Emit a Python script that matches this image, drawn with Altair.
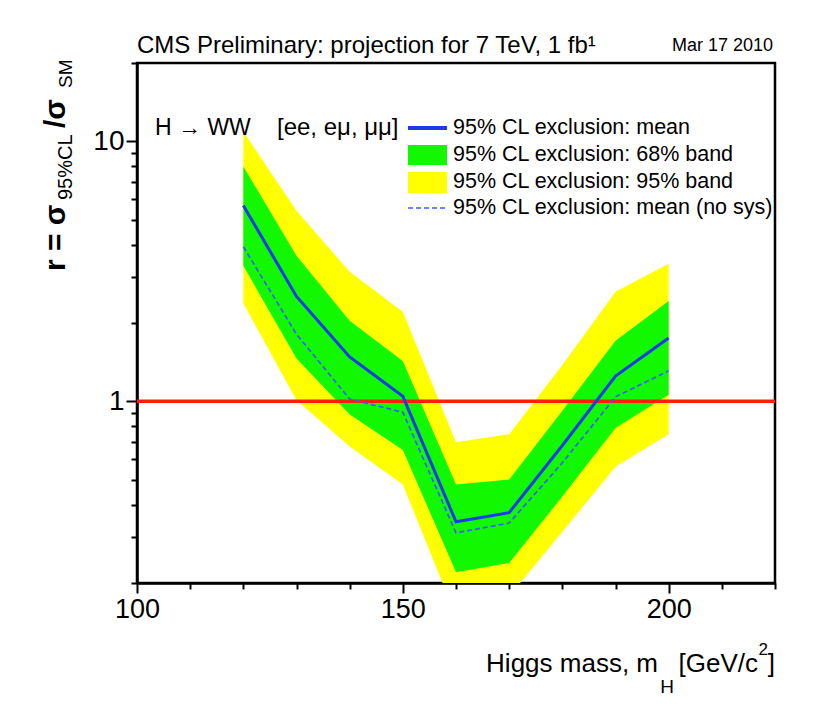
import altair as alt
import pandas as pd

# ---------------- data ----------------
mass = [120, 130, 140, 150, 160, 170, 180, 190, 200]
mean = [5.66, 2.53, 1.48, 1.045, 0.344, 0.373, 0.676, 1.25, 1.75]
mean_nosys = [3.93, 1.81, 1.02, 0.907, 0.312, 0.34, 0.58, 1.04, 1.31]
band68_lo = [3.32, 1.46, 0.89, 0.65, 0.22, 0.239, 0.43, 0.79, 1.06]
band68_hi = [8.0, 3.63, 2.04, 1.43, 0.478, 0.50, 0.92, 1.71, 2.43]
band95_lo = [2.38, 1.01, 0.67, 0.478, 0.149, 0.178, 0.315, 0.56, 0.746]
band95_hi = [10.9, 5.41, 3.15, 2.21, 0.695, 0.746, 1.38, 2.64, 3.38]
sm_ratio = [1.0]

x_ticks = [100, 110, 120, 130, 140, 150, 160, 170, 180, 190, 200, 210, 220]
x_major = [100, 150, 200]
y_ticks = [0.2, 0.3, 0.4, 0.5, 0.6, 0.7, 0.8, 0.9, 1, 2, 3, 4, 5, 6, 7, 8, 9, 10, 20]
y_major = [1, 10]

legend_labels = [
    "95% CL exclusion: mean",
    "95% CL exclusion: 68% band",
    "95% CL exclusion: 95% band",
    "95% CL exclusion: mean (no sys)",
]
title_text = "CMS Preliminary: projection for 7 TeV, 1 fb\u00b9"
date_text = "Mar 17 2010"
channel_text = ["H \u2192 WW", "[ee, e\u03bc, \u03bc\u03bc]"]

df = pd.DataFrame({
    "mass": mass, "mean": mean, "nosys": mean_nosys,
    "b68lo": band68_lo, "b68hi": band68_hi,
    "b95lo": band95_lo, "b95hi": band95_hi,
})

FONT = "Liberation Sans, Arial, Helvetica, sans-serif"

x_scale = alt.Scale(domain=[100, 220], nice=False, zero=False)
y_scale = alt.Scale(type="log", domain=[0.2, 20], nice=False)

x_major_test = " || ".join(f"datum.value == {v}" for v in x_major)
y_major_test = " || ".join(f"datum.value == {v}" for v in y_major)

xaxis = alt.Axis(
    values=x_ticks, title=None, grid=False,
    labelExpr=f"({x_major_test}) ? format(datum.value, 'd') : ''",
    tickSize={"condition": {"test": x_major_test, "value": 10}, "value": 6},
    tickWidth=2, tickColor="black", domainWidth=2.5, domainColor="black",
    labelFont=FONT, labelFontSize=27, labelColor="black", labelPadding=3,
    labelOverlap=False, labelFlush=False,
)
yaxis = alt.Axis(
    values=y_ticks, title=None, grid=False,
    labelExpr=f"({y_major_test}) ? format(datum.value, 'd') : ''",
    tickSize={"condition": {"test": y_major_test, "value": 11}, "value": 6},
    tickWidth=2, tickColor="black", domainWidth=2.5, domainColor="black",
    labelFont=FONT, labelFontSize=28, labelColor="black", labelPadding=2,
    labelOverlap=False, labelFlush=False,
)

base = alt.Chart(df)

yellow = base.mark_area(color="#ffff00", clip=True, opacity=1).encode(
    x=alt.X("mass:Q", scale=x_scale, axis=xaxis, title=None),
    y=alt.Y("b95lo:Q", scale=y_scale, axis=yaxis, title=None),
    y2="b95hi:Q",
)
green = base.mark_area(color="#12f800", clip=True, opacity=1).encode(
    x=alt.X("mass:Q", title=None),
    y=alt.Y("b68lo:Q", title=None),
    y2="b68hi:Q",
)
red = alt.Chart(pd.DataFrame({"r": sm_ratio})).mark_rule(
    color="#ff1e00", strokeWidth=3.5, clip=True
).encode(y=alt.Y("r:Q", title=None))

nosys_line = base.mark_line(
    color="#3a5cff", strokeWidth=1.7, strokeDash=[5, 3], clip=True
).encode(x=alt.X("mass:Q", title=None), y=alt.Y("nosys:Q", title=None))
mean_line = base.mark_line(color="#1b3ce8", strokeWidth=3, clip=True).encode(
    x=alt.X("mass:Q", title=None), y=alt.Y("mean:Q", title=None)
)

one = pd.DataFrame({"a": [0]})

def txt(s, x, y, size, align="left", baseline="middle", angle=0, weight="normal"):
    return alt.Chart(pd.DataFrame({"t": [s]})).mark_text(
        align=align, baseline=baseline, font=FONT, fontSize=size,
        fontWeight=weight, color="black", angle=angle,
    ).encode(text="t:N", x=alt.value(x), y=alt.value(y))

# legend symbols
leg_mean = alt.Chart(one).mark_rule(color="#1b3ce8", strokeWidth=4).encode(
    x=alt.value(271), x2=alt.value(310), y=alt.value(65))
leg_68 = alt.Chart(one).mark_rect(color="#12f800").encode(
    x=alt.value(271), x2=alt.value(310), y=alt.value(82), y2=alt.value(102))
leg_95 = alt.Chart(one).mark_rect(color="#ffff00").encode(
    x=alt.value(271), x2=alt.value(310), y=alt.value(109), y2=alt.value(130))
leg_nosys = alt.Chart(one).mark_rule(color="#3a5cff", strokeWidth=1.7,
                                     strokeDash=[5, 3]).encode(
    x=alt.value(271), x2=alt.value(310), y=alt.value(145))

leg_texts = [txt(lbl, 316, yy, 21.5) for lbl, yy in zip(legend_labels, [65, 92, 119, 145])]

chan1 = txt(channel_text[0], 18, 65, 23)
chan2 = txt(channel_text[1], 140, 65, 24)

title = txt(title_text, 0, -10, 24, baseline="alphabetic")
date = txt(date_text, 636, -12, 18, align="right", baseline="alphabetic")

# x-axis title with subscript / superscript (chained from the right edge)
xt1 = txt("Higgs mass, m", 521, 609, 26, align="right", baseline="alphabetic")
xt2 = txt("H", 537, 630, 19, align="right", baseline="alphabetic")
xt3 = txt("[GeV/c", 621, 609, 26, align="right", baseline="alphabetic")
xt4 = txt("2", 631, 592, 17, align="right", baseline="alphabetic")
xt5 = txt("]", 638, 609, 26, align="right", baseline="alphabetic")

# y-axis title (rotated) with subscripts
yt1 = txt("r = \u03c3", -72, 208, 30, baseline="alphabetic", angle=270, weight="bold")
yt2 = txt("95%CL", -65, 137, 20, baseline="alphabetic", angle=270)
yt3 = txt("/\u03c3", -72, 65, 30, baseline="alphabetic", angle=270, weight="bold")
yt4 = txt("SM", -65, 25, 19, baseline="alphabetic", angle=270)

chart = alt.layer(
    yellow, green, red, nosys_line, mean_line,
    leg_mean, leg_68, leg_95, leg_nosys, *leg_texts,
    chan1, chan2, title, date,
    xt1, xt2, xt3, xt4, xt5, yt1, yt2, yt3, yt4,
).properties(
    width=638, height=520,
    autosize=alt.AutoSizeParams(type="none"),
    padding={"left": 137, "top": 63, "right": 55, "bottom": 129},
    background="white",
).configure_view(
    stroke="black", strokeWidth=2.5,
)

chart.save("out.html", embed_options={"renderer": "svg", "actions": False})
